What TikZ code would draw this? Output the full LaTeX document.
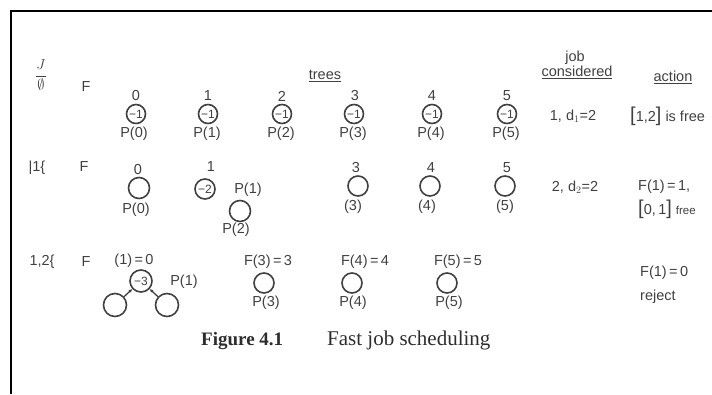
\documentclass[tikz,border=0pt]{standalone}
\usepackage{fontspec}
\setmainfont{Liberation Sans}
\newfontfamily\capfont{Liberation Serif}
\usetikzlibrary{arrows.meta}

\definecolor{ink}{HTML}{404040}
\newcommand{\bigbr}[1]{{\fontsize{20}{20}\selectfont#1}}

\begin{document}
\begin{tikzpicture}[x=1pt, y=-1pt,
  hand/.style={text=ink, inner sep=0pt, font=\fontsize{14.5}{14.5}\selectfont},
  vtx/.style={circle, draw=ink, line width=1.6pt, minimum size=#1, inner sep=0pt,
    text=ink, font=\fontsize{12}{12}\selectfont},
  vtx/.default=19pt]
\useasboundingbox (0,0) rectangle (712,394);
\draw[line width=2.2pt, black] (11,394) -- (11,11) -- (712,11);

% column heads
\node[hand] (trees) at (325,76) {\underline{trees}};
\node[hand] (job) at (575,58) {job};
\node[hand] (cons) at (577,72) {\underline{considered}};
\node[hand] (act) at (673,77) {\underline{action}};

% first line: every tree a single root
\node[hand] (lbA) at (41,75) {$\displaystyle{J\over\emptyset}$};
\node[hand] (FA) at (86,87) {F};
\node[hand] (nA0) at (136,96) {0};
\node[hand] (nA1) at (208,96) {1};
\node[hand] (nA2) at (282,96) {2};
\node[hand] (nA3) at (355,96) {3};
\node[hand] (nA4) at (432,96) {4};
\node[hand] (nA5) at (507,96) {5};
\node[vtx] (a0) at (136,114) {−1};
\node[vtx] (a1) at (208,114) {−1};
\node[vtx] (a2) at (282,114) {−1};
\node[vtx] (a3) at (354,114) {−1};
\node[vtx] (a4) at (432,114) {−1};
\node[vtx] (a5) at (507,114) {−1};
\node[hand] (pA0) at (134,134) {P(0)};
\node[hand] (pA1) at (207,134) {P(1)};
\node[hand] (pA2) at (281,134) {P(2)};
\node[hand] (pA3) at (353,134) {P(3)};
\node[hand] (pA4) at (431,134) {P(4)};
\node[hand] (pA5) at (506,134) {P(5)};
\node[hand] (jobA) at (573,116) {1, d$_1$=2};
\node[hand, anchor=west] (actA) at (630,116) {\bigbr{[}1,2\bigbr{]} is free};

% second line: tree 2 hangs under tree 1
\node[hand] (lbB) at (37,168) {|1\{};
\node[hand] (FB) at (84,167) {F};
\node[hand] (nB0) at (138,170) {0};
\node[hand] (nB1) at (211,167) {1};
\node[hand] (nB3) at (356,168) {3};
\node[hand] (nB4) at (431,168) {4};
\node[hand] (nB5) at (507,168) {5};
\node[vtx=21pt] (b0) at (139,188) {};
\node[vtx=20pt] (b1) at (205,189) {−2};
\node[vtx=21pt] (b2) at (240,211) {};
\node[vtx=20pt] (b3) at (358,186) {};
\node[vtx=20pt] (b4) at (430,186) {};
\node[vtx=20pt] (b5) at (505,186) {};
\node[hand] (pB0) at (136,210) {P(0)};
\node[hand] (pB1) at (248,190) {P(1)};
\node[hand] (pB2) at (236,230) {P(2)};
\node[hand] (pB3) at (353,207) {(3)};
\node[hand] (pB4) at (427,207) {(4)};
\node[hand] (pB5) at (505,207) {(5)};
\node[hand] (jobB) at (575,187) {2, d$_2$=2};
\node[hand, anchor=west] (actB) at (638,187) {F(1)\,=\,1,};
\node[hand, anchor=west] (actB2) at (638,209) {\bigbr{[}0,\,1\bigbr{]} {\fontsize{11.5}{11.5}\selectfont free}};

% third line
\node[hand] (lbC) at (42,262) {1,2\{};
\node[hand] (FC) at (86,262) {F};
\node[hand] (nC1) at (134,261) {(1)\,=\,0};
\node[vtx=22pt] (c1) at (141,281) {−3};
\node[vtx=23pt] (c0) at (115,305) {};
\node[vtx=23pt] (c2) at (167,305) {};
\node[hand] (pC1) at (184,282) {P(1)};
\node[hand] (nC3) at (268,262) {F(3)\,=\,3};
\node[hand] (nC4) at (365,262) {F(4)\,=\,4};
\node[hand] (nC5) at (458,262) {F(5)\,=\,5};
\node[vtx=20pt] (c3) at (264,283) {};
\node[vtx=20pt] (c4) at (352,283) {};
\node[vtx=20pt] (c5) at (447,283) {};
\node[hand] (pC3) at (266,303) {P(3)};
\node[hand] (pC4) at (353,303) {P(4)};
\node[hand] (pC5) at (449,303) {P(5)};
\node[hand, anchor=west] (actC) at (640,273) {F(1)\,=\,0};
\node[hand, anchor=west] (actC2) at (640,297) {reject};
\draw[ink, line width=1.3pt, -{Latex[length=3.5pt,width=3.5pt]}] (c0) -- (c1);
\draw[ink, line width=1.3pt, -{Latex[length=3.5pt,width=3.5pt]}] (c2) -- (c1);

\node[text=ink!70!black, anchor=west, inner sep=0pt] (cap) at (201,340)
  {\capfont{\fontsize{19}{19}\selectfont\textbf{Figure 4.1}}\hspace{44pt}{\fontsize{21}{21}\selectfont Fast job scheduling}};
\end{tikzpicture}
\end{document}
